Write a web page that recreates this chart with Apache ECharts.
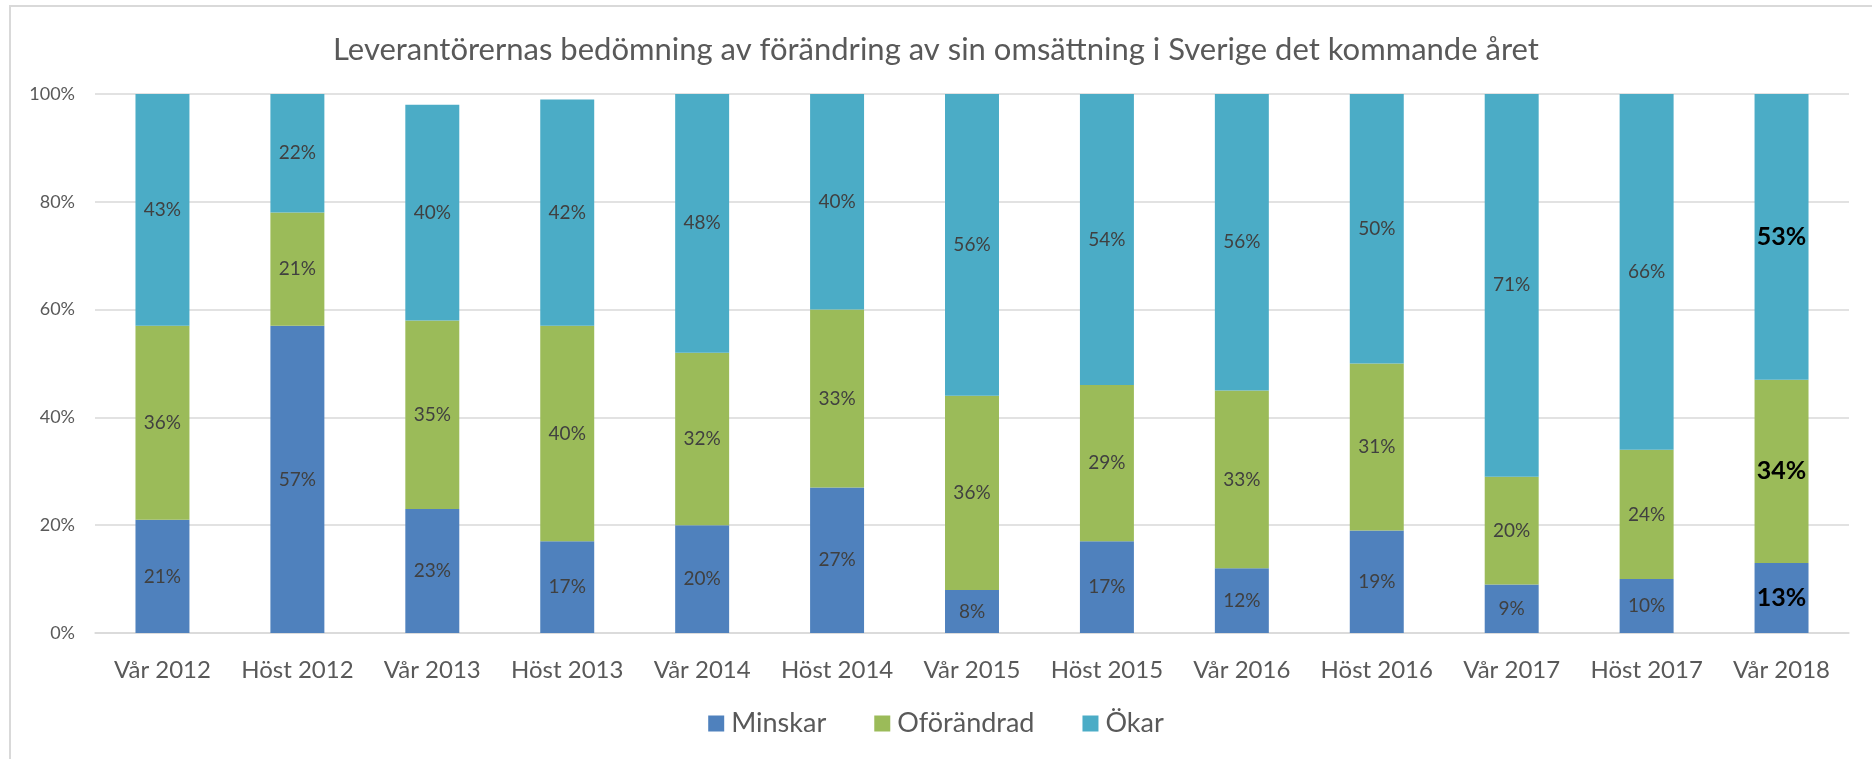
<!DOCTYPE html>
<html>
<head>
<meta charset="utf-8">
<script src="https://cdn.jsdelivr.net/npm/echarts@6/dist/echarts.min.js"></script>
<style>
  html, body { margin: 0; padding: 0; background: #fff; }
  #chart { width: 1872px; height: 759px; }
</style>
</head>
<body>
<div id="chart"></div>
<script>
const categories = ['Vår 2012', 'Höst 2012', 'Vår 2013', 'Höst 2013', 'Vår 2014', 'Höst 2014', 'Vår 2015',
  'Höst 2015', 'Vår 2016', 'Höst 2016', 'Vår 2017', 'Höst 2017', 'Vår 2018'];
const minskar    = [21, 57, 23, 17, 20, 27, 8, 17, 12, 19, 9, 10, 13];
const oforandrad = [36, 21, 35, 40, 32, 33, 36, 29, 33, 31, 20, 24, 34];
const okar       = [43, 22, 40, 42, 48, 40, 56, 54, 56, 50, 71, 66, 53];
const yTicks = [0, 20, 40, 60, 80, 100];

const font = 'Lato, "Open Sans", sans-serif';
const colors = ['#4f81bd', '#9bbb59', '#4bacc6'];

// last bar is highlighted with bold, bigger labels
function toData(arr) {
  return arr.map((v, i) => i === arr.length - 1
    ? { value: v, label: { fontWeight: 'bold', fontSize: 25, color: '#000' } }
    : v);
}

function makeSeries(name, arr) {
  return {
    name: name,
    type: 'bar',
    stack: 'total',
    barWidth: '40%',
    data: toData(arr),
    label: {
      show: true,
      position: 'inside',
      formatter: '{c}%',
      fontFamily: font,
      fontSize: 19,
      color: '#404040'
    }
  };
}

const chart = echarts.init(document.getElementById('chart'));
chart.setOption({
  animation: false,
  color: colors,
  textStyle: { fontFamily: font },
  title: {
    text: 'Leverantörernas bedömning av förändring av sin omsättning i Sverige det kommande året',
    left: 'center',
    top: 29,
    textStyle: { fontFamily: font, fontSize: 31, fontWeight: 'normal', color: '#595959' }
  },
  graphic: [{
    type: 'rect',
    shape: { x: 10, y: 6, width: 1900, height: 800 },
    style: { fill: 'none', stroke: '#d9d9d9', lineWidth: 2 },
    silent: true
  }],
  legend: {
    bottom: 17,
    left: 'center',
    itemWidth: 16,
    itemHeight: 16,
    itemGap: 48,
    icon: 'rect',
    textStyle: { fontFamily: font, fontSize: 27, color: '#595959', padding: [0, 0, 0, 2] },
    data: ['Minskar', 'Oförändrad', 'Ökar']
  },
  grid: { left: 95, right: 23, top: 94, bottom: 126, containLabel: false },
  xAxis: {
    type: 'category',
    data: categories,
    axisTick: { show: false },
    axisLine: { lineStyle: { color: '#d9d9d9', width: 1.5 } },
    axisLabel: { interval: 0, fontFamily: font, fontSize: 24, color: '#595959', margin: 25 }
  },
  yAxis: {
    type: 'value',
    min: yTicks[0],
    max: yTicks[yTicks.length - 1],
    interval: yTicks[1] - yTicks[0],
    axisLine: { show: false },
    axisTick: { show: false },
    splitLine: { lineStyle: { color: '#d9d9d9', width: 1.5 } },
    axisLabel: { formatter: '{value}%', fontFamily: font, fontSize: 18, color: '#595959', margin: 20 }
  },
  series: [
    makeSeries('Minskar', minskar),
    makeSeries('Oförändrad', oforandrad),
    makeSeries('Ökar', okar)
  ]
});
</script>
</body>
</html>
